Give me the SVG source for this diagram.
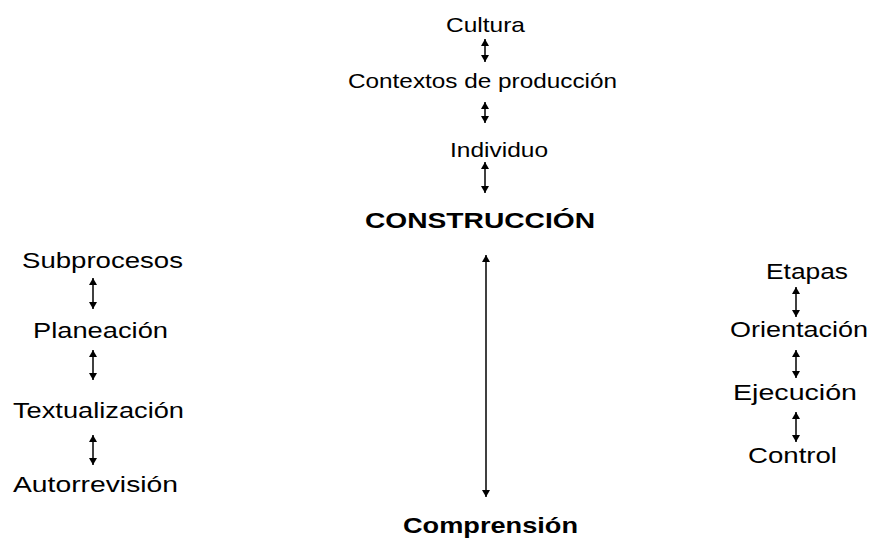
<svg xmlns="http://www.w3.org/2000/svg" width="875" height="542" viewBox="0 0 875 542">
  <defs>
    <marker id="ah" viewBox="0 0 7 8" markerWidth="7" markerHeight="8" refX="7" refY="4" orient="auto-start-reverse" markerUnits="userSpaceOnUse">
      <path d="M0,0 L7,4 L0,8 z" fill="#000"/>
    </marker>
  </defs>
  <style>
    text { font-family: "Liberation Sans", Arial, sans-serif; fill: #000; }
    .t { font-size: 21px; }
    .n { font-size: 22px; }
    .b { font-size: 22px; font-weight: bold; }
    .c line { stroke: #000; stroke-width: 1.5; marker-start: url(#ah); marker-end: url(#ah); }
  </style>
  <rect width="875" height="542" fill="#fff"/>

  <g id="cultura"><text class="t" x="446" y="32" textLength="79" lengthAdjust="spacingAndGlyphs">Cultura</text></g>
  <g id="contextos"><text class="t" x="348" y="88" textLength="269" lengthAdjust="spacingAndGlyphs">Contextos de producción</text></g>
  <g id="individuo"><text class="t" x="450" y="157" textLength="98" lengthAdjust="spacingAndGlyphs">Individuo</text></g>
  <g id="construccion"><text class="b" x="365" y="228" textLength="230" lengthAdjust="spacingAndGlyphs">CONSTRUCCIÓN</text></g>
  <g id="comprension"><text class="b" x="403" y="533" textLength="175" lengthAdjust="spacingAndGlyphs">Comprensión</text></g>

  <g id="subprocesos"><text class="n" x="22" y="268" textLength="161" lengthAdjust="spacingAndGlyphs">Subprocesos</text></g>
  <g id="planeacion"><text class="n" x="33" y="338" textLength="135" lengthAdjust="spacingAndGlyphs">Planeación</text></g>
  <g id="textualizacion"><text class="n" x="13" y="418" textLength="171" lengthAdjust="spacingAndGlyphs">Textualización</text></g>
  <g id="autorrevision"><text class="n" x="13" y="492" textLength="165" lengthAdjust="spacingAndGlyphs">Autorrevisión</text></g>

  <g id="etapas"><text class="n" x="766" y="279" textLength="82" lengthAdjust="spacingAndGlyphs">Etapas</text></g>
  <g id="orientacion"><text class="n" x="730" y="337" textLength="138" lengthAdjust="spacingAndGlyphs">Orientación</text></g>
  <g id="ejecucion"><text class="n" x="733" y="400" textLength="124" lengthAdjust="spacingAndGlyphs">Ejecución</text></g>
  <g id="control"><text class="n" x="748" y="463" textLength="89" lengthAdjust="spacingAndGlyphs">Control</text></g>

  <g id="connectors" class="c">
    <line x1="485" y1="39" x2="485" y2="62"/>
    <line x1="485" y1="102" x2="485" y2="123"/>
    <line x1="485" y1="162" x2="485" y2="193"/>
    <line x1="486" y1="255" x2="486" y2="497"/>
    <line x1="93" y1="278" x2="93" y2="309"/>
    <line x1="93" y1="350" x2="93" y2="380"/>
    <line x1="93" y1="435" x2="93" y2="465"/>
    <line x1="796" y1="287" x2="796" y2="317"/>
    <line x1="796" y1="350" x2="796" y2="378"/>
    <line x1="796" y1="412" x2="796" y2="442"/>
  </g>
</svg>
